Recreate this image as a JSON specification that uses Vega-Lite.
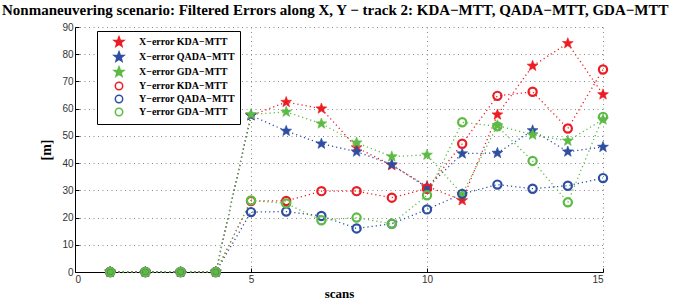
{
  "$schema": "https://vega.github.io/schema/vega-lite/v6.json",
  "autosize": "none",
  "width": 528,
  "height": 245,
  "padding": {"left": 75, "top": 27, "right": 81, "bottom": 30},
  "background": "white",
  "title": {
    "text": "Nonmaneuvering scenario: Filtered Errors along X, Y − track 2: KDA−MTT, QADA−MTT, GDA−MTT",
    "anchor": "start",
    "frame": "group",
    "dx": -73,
    "dy": 18,
    "offset": 10,
    "baseline": "alphabetic",
    "font": "Liberation Serif",
    "fontWeight": "bold",
    "fontSize": 15,
    "color": "black"
  },
  "config": {
    "view": {"stroke": null},
    "axis": {
      "domainColor": "black",
      "domainWidth": 1,
      "tickColor": "black",
      "tickSize": -4,
      "labelFont": "Liberation Sans",
      "labelFontSize": 10,
      "labelColor": "#333333",
      "gridColor": "#888888",
      "gridDash": [1, 3.5],
      "gridWidth": 1,
      "titleFont": "Liberation Serif",
      "titleFontWeight": "bold",
      "titleFontSize": 13,
      "titleColor": "black"
    }
  },
  "data": {
    "values": [
      {"scan": 1, "series": "X−error KDA−MTT", "value": 0},
      {"scan": 2, "series": "X−error KDA−MTT", "value": 0},
      {"scan": 3, "series": "X−error KDA−MTT", "value": 0},
      {"scan": 4, "series": "X−error KDA−MTT", "value": 0},
      {"scan": 5, "series": "X−error KDA−MTT", "value": 57.5},
      {"scan": 6, "series": "X−error KDA−MTT", "value": 62.4},
      {"scan": 7, "series": "X−error KDA−MTT", "value": 60},
      {"scan": 8, "series": "X−error KDA−MTT", "value": 45.7},
      {"scan": 9, "series": "X−error KDA−MTT", "value": 39.2},
      {"scan": 10, "series": "X−error KDA−MTT", "value": 31.5},
      {"scan": 11, "series": "X−error KDA−MTT", "value": 26.3},
      {"scan": 12, "series": "X−error KDA−MTT", "value": 57.8},
      {"scan": 13, "series": "X−error KDA−MTT", "value": 75.7},
      {"scan": 14, "series": "X−error KDA−MTT", "value": 84},
      {"scan": 15, "series": "X−error KDA−MTT", "value": 65.2},
      {"scan": 1, "series": "X−error QADA−MTT", "value": 0},
      {"scan": 2, "series": "X−error QADA−MTT", "value": 0},
      {"scan": 3, "series": "X−error QADA−MTT", "value": 0},
      {"scan": 4, "series": "X−error QADA−MTT", "value": 0},
      {"scan": 5, "series": "X−error QADA−MTT", "value": 57.5},
      {"scan": 6, "series": "X−error QADA−MTT", "value": 51.8},
      {"scan": 7, "series": "X−error QADA−MTT", "value": 47.1},
      {"scan": 8, "series": "X−error QADA−MTT", "value": 44.2},
      {"scan": 9, "series": "X−error QADA−MTT", "value": 39.5},
      {"scan": 10, "series": "X−error QADA−MTT", "value": 31},
      {"scan": 11, "series": "X−error QADA−MTT", "value": 43.5},
      {"scan": 12, "series": "X−error QADA−MTT", "value": 43.7},
      {"scan": 13, "series": "X−error QADA−MTT", "value": 52},
      {"scan": 14, "series": "X−error QADA−MTT", "value": 44.2},
      {"scan": 15, "series": "X−error QADA−MTT", "value": 45.9},
      {"scan": 1, "series": "X−error GDA−MTT", "value": 0},
      {"scan": 2, "series": "X−error GDA−MTT", "value": 0},
      {"scan": 3, "series": "X−error GDA−MTT", "value": 0},
      {"scan": 4, "series": "X−error GDA−MTT", "value": 0},
      {"scan": 5, "series": "X−error GDA−MTT", "value": 57.9},
      {"scan": 6, "series": "X−error GDA−MTT", "value": 58.8},
      {"scan": 7, "series": "X−error GDA−MTT", "value": 54.5},
      {"scan": 8, "series": "X−error GDA−MTT", "value": 47.5},
      {"scan": 9, "series": "X−error GDA−MTT", "value": 42.4},
      {"scan": 10, "series": "X−error GDA−MTT", "value": 43},
      {"scan": 11, "series": "X−error GDA−MTT", "value": 28.6},
      {"scan": 12, "series": "X−error GDA−MTT", "value": 53.8},
      {"scan": 13, "series": "X−error GDA−MTT", "value": 50.4},
      {"scan": 14, "series": "X−error GDA−MTT", "value": 48.2},
      {"scan": 15, "series": "X−error GDA−MTT", "value": 56},
      {"scan": 1, "series": "Y−error KDA−MTT", "value": 0},
      {"scan": 2, "series": "Y−error KDA−MTT", "value": 0},
      {"scan": 3, "series": "Y−error KDA−MTT", "value": 0},
      {"scan": 4, "series": "Y−error KDA−MTT", "value": 0},
      {"scan": 5, "series": "Y−error KDA−MTT", "value": 26.1},
      {"scan": 6, "series": "Y−error KDA−MTT", "value": 26.1},
      {"scan": 7, "series": "Y−error KDA−MTT", "value": 29.7},
      {"scan": 8, "series": "Y−error KDA−MTT", "value": 29.7},
      {"scan": 9, "series": "Y−error KDA−MTT", "value": 27.3},
      {"scan": 10, "series": "Y−error KDA−MTT", "value": 30.6},
      {"scan": 11, "series": "Y−error KDA−MTT", "value": 47.1},
      {"scan": 12, "series": "Y−error KDA−MTT", "value": 64.7},
      {"scan": 13, "series": "Y−error KDA−MTT", "value": 66.2},
      {"scan": 14, "series": "Y−error KDA−MTT", "value": 52.7},
      {"scan": 15, "series": "Y−error KDA−MTT", "value": 74.4},
      {"scan": 1, "series": "Y−error QADA−MTT", "value": 0},
      {"scan": 2, "series": "Y−error QADA−MTT", "value": 0},
      {"scan": 3, "series": "Y−error QADA−MTT", "value": 0},
      {"scan": 4, "series": "Y−error QADA−MTT", "value": 0},
      {"scan": 5, "series": "Y−error QADA−MTT", "value": 22},
      {"scan": 6, "series": "Y−error QADA−MTT", "value": 22.2},
      {"scan": 7, "series": "Y−error QADA−MTT", "value": 20.6},
      {"scan": 8, "series": "Y−error QADA−MTT", "value": 16},
      {"scan": 9, "series": "Y−error QADA−MTT", "value": 17.7},
      {"scan": 10, "series": "Y−error QADA−MTT", "value": 23},
      {"scan": 11, "series": "Y−error QADA−MTT", "value": 28.7},
      {"scan": 12, "series": "Y−error QADA−MTT", "value": 32.1},
      {"scan": 13, "series": "Y−error QADA−MTT", "value": 30.6},
      {"scan": 14, "series": "Y−error QADA−MTT", "value": 31.7},
      {"scan": 15, "series": "Y−error QADA−MTT", "value": 34.5},
      {"scan": 1, "series": "Y−error GDA−MTT", "value": 0},
      {"scan": 2, "series": "Y−error GDA−MTT", "value": 0},
      {"scan": 3, "series": "Y−error GDA−MTT", "value": 0},
      {"scan": 4, "series": "Y−error GDA−MTT", "value": 0},
      {"scan": 5, "series": "Y−error GDA−MTT", "value": 26.3},
      {"scan": 6, "series": "Y−error GDA−MTT", "value": 25.2},
      {"scan": 7, "series": "Y−error GDA−MTT", "value": 19},
      {"scan": 8, "series": "Y−error GDA−MTT", "value": 20},
      {"scan": 9, "series": "Y−error GDA−MTT", "value": 17.7},
      {"scan": 10, "series": "Y−error GDA−MTT", "value": 28.2},
      {"scan": 11, "series": "Y−error GDA−MTT", "value": 55},
      {"scan": 12, "series": "Y−error GDA−MTT", "value": 53.5},
      {"scan": 13, "series": "Y−error GDA−MTT", "value": 40.8},
      {"scan": 14, "series": "Y−error GDA−MTT", "value": 25.6},
      {"scan": 15, "series": "Y−error GDA−MTT", "value": 57}
    ]
  },
  "encoding": {
    "x": {
      "field": "scan",
      "type": "quantitative",
      "title": "scans",
      "scale": {"domain": [0, 15], "nice": false},
      "axis": {"values": [0, 5, 10, 15], "labelPadding": 6, "titlePadding": 3}
    },
    "y": {
      "field": "value",
      "type": "quantitative",
      "title": "[m]",
      "scale": {"domain": [0, 90], "nice": false},
      "axis": {"values": [0, 10, 20, 30, 40, 50, 60, 70, 80, 90], "labelPadding": 6, "titlePadding": 8, "titleFontSize": 14}
    }
  },
  "layer": [
    {
      "mark": {"type": "line", "strokeDash": [1.2, 3], "strokeWidth": 1.3},
      "encoding": {
        "color": {
          "field": "series",
          "type": "nominal",
          "legend": null,
          "scale": {
            "range": ["#5cba45", "#ec1c24", "#2d4ea2", "#5cba45", "#ec1c24", "#2d4ea2"]
          }
        }
      }
    },
    {
      "transform": [{"filter": "indexof(datum.series, 'X') == 0"}],
      "mark": {"type": "point", "opacity": 1, "size": 130, "strokeWidth": 0.6},
      "encoding": {
        "stroke": {
          "field": "series",
          "type": "nominal",
          "scale": {
            "domain": ["X−error KDA−MTT", "X−error QADA−MTT", "X−error GDA−MTT", "Y−error KDA−MTT", "Y−error QADA−MTT", "Y−error GDA−MTT"],
            "range": ["#ec1c24", "#2d4ea2", "#5cba45", "#ec1c24", "#2d4ea2", "#5cba45"]
          },
          "legend": {
            "title": null,
            "orient": "none",
            "legendX": 22,
            "legendY": 4,
            "strokeColor": "black",
            "fillColor": "white",
            "padding": 5,
            "rowPadding": -2,
            "symbolSize": 105,
            "symbolStrokeWidth": 1.5,
            "symbolOffset": 11,
            "labelOffset": 14,
            "labelFont": "Liberation Serif",
            "labelFontWeight": "bold",
            "labelFontSize": 10,
            "labelColor": "black"
          }
        },
        "fill": {
          "field": "series",
          "type": "nominal",
          "scale": {
            "domain": ["X−error KDA−MTT", "X−error QADA−MTT", "X−error GDA−MTT", "Y−error KDA−MTT", "Y−error QADA−MTT", "Y−error GDA−MTT"],
            "range": ["#ec1c24", "#2d4ea2", "#5cba45", "transparent", "transparent", "transparent"]
          }
        },
        "shape": {
          "field": "series",
          "type": "nominal",
          "scale": {
            "domain": ["X−error KDA−MTT", "X−error QADA−MTT", "X−error GDA−MTT", "Y−error KDA−MTT", "Y−error QADA−MTT", "Y−error GDA−MTT"],
            "range": [
              "M0,-1L0.247,-0.34L0.951,-0.309L0.399,0.13L0.588,0.809L0,0.42L-0.588,0.809L-0.399,0.13L-0.951,-0.309L-0.247,-0.34Z",
              "M0,-1L0.247,-0.34L0.951,-0.309L0.399,0.13L0.588,0.809L0,0.42L-0.588,0.809L-0.399,0.13L-0.951,-0.309L-0.247,-0.34Z",
              "M0,-1L0.247,-0.34L0.951,-0.309L0.399,0.13L0.588,0.809L0,0.42L-0.588,0.809L-0.399,0.13L-0.951,-0.309L-0.247,-0.34Z",
              "M0.72,0A0.72,0.72,0,1,1,-0.72,0A0.72,0.72,0,1,1,0.72,0Z",
              "M0.72,0A0.72,0.72,0,1,1,-0.72,0A0.72,0.72,0,1,1,0.72,0Z",
              "M0.72,0A0.72,0.72,0,1,1,-0.72,0A0.72,0.72,0,1,1,0.72,0Z"
            ]
          }
        }
      }
    },
    {
      "transform": [{"filter": "indexof(datum.series, 'Y') == 0"}],
      "mark": {"type": "point", "opacity": 1, "size": 130, "strokeWidth": 2.2},
      "encoding": {
        "stroke": {"field": "series", "type": "nominal"},
        "fill": {"field": "series", "type": "nominal"},
        "shape": {"field": "series", "type": "nominal"}
      }
    },
    {
      "data": {"values": [{}]},
      "mark": {"type": "text", "text": "FA=0.4", "font": "Liberation Serif", "fontWeight": "bold", "fontSize": 11, "color": "black"},
      "encoding": {
        "x": {"datum": 1.78},
        "y": {"datum": 46.1}
      }
    }
  ]
}
